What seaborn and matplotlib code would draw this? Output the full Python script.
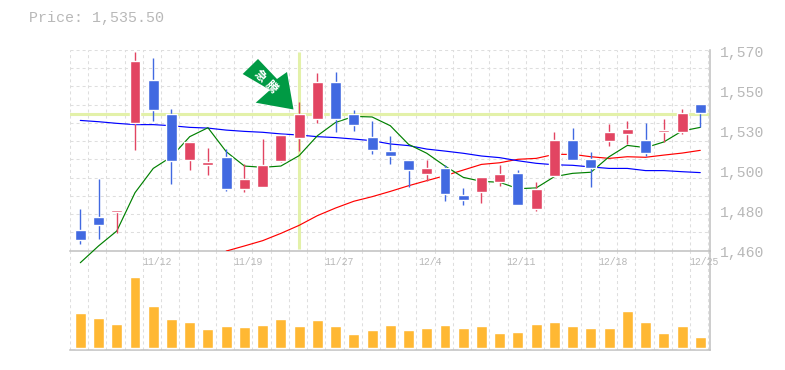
import numpy as np
import pandas as pd
import seaborn as sns
import matplotlib.pyplot as plt
from matplotlib.patches import Polygon

title = "Price: 1,535.50"
price_ticks = [1460, 1470, 1480, 1490, 1500, 1510, 1520, 1530, 1540, 1550, 1560, 1570]
price_labels = ["1,460", "1,480", "1,500", "1,530", "1,550", "1,570"]
date_pos = [4, 9, 14, 19, 24, 29, 34]
date_labels = ["11/12", "11/19", "11/27", "12/4", "12/11", "12/18", "12/25"]

opens = [1465.9, 1474.1, 1481.2, 1530.0, 1553.5, 1534.9, 1509.7, 1507.0, 1511.3, 1493.8,
         1494.9, 1509.2, 1521.8, 1532.2, 1552.4, 1534.9, 1522.3, 1514.6, 1509.7, 1502.0,
         1505.3, 1490.5, 1492.2, 1497.6, 1502.6, 1482.8, 1500.9, 1520.7, 1510.3, 1520.1,
         1524.0, 1520.7, 1525.0, 1525.0, 1540.4]
closes = [1471.3, 1478.5, 1482.3, 1563.95, 1537.1, 1509.2, 1519.6, 1508.6, 1493.8, 1499.3,
          1507.0, 1523.4, 1534.9, 1552.4, 1532.2, 1528.9, 1515.2, 1511.9, 1504.2, 1505.3,
          1491.1, 1487.8, 1500.4, 1502.0, 1485.0, 1493.8, 1520.7, 1509.7, 1505.3, 1525.0,
          1526.7, 1513.5, 1526.1, 1535.5, 1535.5]
highs = [1482.8, 1499.3, 1482.3, 1568.9, 1565.6, 1537.65, 1519.6, 1516.3, 1515.7, 1507.5,
         1521.2, 1523.4, 1541.5, 1557.4, 1557.9, 1537.1, 1531.1, 1522.9, 1509.7, 1509.7,
         1506.8, 1494.4, 1500.4, 1507.0, 1504.2, 1497.6, 1525.0, 1527.2, 1514.1, 1529.4,
         1531.1, 1530.0, 1532.2, 1537.65, 1540.4]
lows = [1463.7, 1466.4, 1469.7, 1515.2, 1531.1, 1496.5, 1504.2, 1501.5, 1492.7, 1492.2,
        1494.9, 1508.6, 1514.6, 1530.0, 1525.0, 1525.6, 1513.0, 1507.5, 1494.9, 1498.2,
        1487.2, 1485.0, 1486.1, 1495.5, 1485.0, 1481.75, 1500.9, 1509.7, 1494.9, 1517.4,
        1518.5, 1511.9, 1519.6, 1524.0, 1527.6]
up = [False, False, True, True, False, False, True, True, False, True,
      True, True, True, True, False, False, False, False, False, True,
      False, False, True, True, False, True, True, False, False, True,
      True, False, True, True, False]

ma_green = [1453.4, 1462.6, 1470.8, 1491.8, 1505.1, 1511.5, 1522.5, 1527.4, 1514.3, 1506.4,
            1505.7, 1506.4, 1512.1, 1523.0, 1530.3, 1533.6, 1533.3, 1528.5, 1518.3, 1513.4,
            1506.4, 1500.2, 1498.0, 1497.5, 1494.0, 1494.4, 1500.6, 1502.4, 1503.0, 1511.5,
            1517.7, 1516.5, 1519.6, 1525.6, 1527.6]
ma_blue = [1531.4, 1530.7, 1529.8, 1529.1, 1529.1, 1528.5, 1527.6, 1527.2, 1526.1, 1525.4,
           1524.9, 1524.0, 1523.4, 1522.5, 1522.0, 1521.2, 1520.3, 1518.5, 1517.6, 1515.7,
           1514.6, 1513.4, 1511.9, 1511.0, 1509.3, 1507.9, 1507.1, 1506.8, 1505.9, 1505.1,
           1505.1, 1503.9, 1503.9, 1503.3, 1502.8]
ma_red = [np.nan] * 8 + [1459.8, 1462.6, 1465.5, 1469.5, 1473.9, 1479.2, 1483.4, 1487.1, 1489.6,
                         1492.5, 1495.6, 1498.4, 1501.1, 1504.2, 1507.3, 1508.2, 1510.1, 1510.6,
                         1512.8, 1512.8, 1511.5, 1510.6, 1511.5, 1511.2, 1512.4, 1513.5, 1515.0]
volume = [35, 30, 24, 71, 42, 29, 26, 19, 22, 21, 23, 29, 22, 28, 22, 14, 18, 23,
          18, 20, 23, 20, 22, 15, 16, 24, 26, 22, 20, 20, 37, 26, 15, 22, 11]
cross_idx = 12
cross_price = 1534.7

RED = "#e24562"
BLUE = "#4169e1"
GRID = "#dedede"
AXIS = "#c0c0c0"
TEXT = "#b8b8b8"
CROSS = "#e3f1a9"
W, H = 785, 370

sns.set_style("white")
plt.rcParams["font.family"] = ["Liberation Mono", "Noto Sans CJK JP", "DejaVu Sans"]

days = np.arange(len(opens))
df = pd.DataFrame({"day": days, "open": opens, "close": closes, "high": highs, "low": lows,
                   "green": ma_green, "blue": ma_blue, "red": ma_red, "volume": volume})
colors = [RED if u else BLUE for u in up]

fig = plt.figure(figsize=(W / 100, H / 100), dpi=100)
ax_vol = fig.add_axes([70 / W, 1 - 350.3 / H, 640 / W, 99.6 / H])
ax = fig.add_axes([70 / W, 1 - 250.7 / H, 640 / W, 200.7 / H])
ax.patch.set_alpha(0)

# moving averages, green one runs past the bottom of the pane
for col, c in [("red", "#ff0000"), ("blue", "#0000ff"), ("green", "#008000")]:
    sns.lineplot(data=df, x="day", y=col, color=c, lw=0.85, ax=ax, zorder=3, clip_on=col == "red")

ax.vlines(days, df["low"], df["high"], colors=colors, lw=1.0, zorder=4)
ax.bar(days, np.abs(df["close"] - df["open"]), bottom=df[["open", "close"]].min(axis=1),
       width=0.6, color=colors, zorder=5)

ax.axhline(cross_price, color=CROSS, lw=2.2, zorder=2)
ax.plot([cross_idx, cross_idx], [1461, 1569], color=CROSS, lw=2.2, zorder=2, solid_capstyle="butt")

sns.barplot(data=df, x="day", y="volume", native_scale=True, color="#ffb833", saturation=1,
            width=0.6, ax=ax_vol, zorder=3)

xmin = -0.565
xmax = xmin + 640 / 18.235
grid_x = np.arange(xmin, xmax, 1.0)
for a in (ax, ax_vol):
    a.set_xlim(xmin, xmax)
    a.set_xticks(grid_x)
    a.set_xticklabels([])
    a.set_xlabel("")
    a.set_ylabel("")
    a.tick_params(length=0)
    a.set_yticklabels([])
    a.grid(axis="x", color=GRID, lw=0.75, ls=(0, (2.9, 2.9)), zorder=0)
    a.set_axisbelow(True)
    sns.despine(ax=a, left=True, top=True, right=False, bottom=False)
    for s in ("right", "bottom"):
        a.spines[s].set_color(AXIS)
        a.spines[s].set_linewidth(1.1)

ax.set_ylim(1460, 1570)
ax.set_yticks(price_ticks)
ax.set_yticklabels([])
ax.grid(axis="y", color=GRID, lw=0.75, ls=(0, (2.9, 2.9)), zorder=0)
ax_vol.set_ylim(-2.3, 97.3)
ax_vol.set_yticks([])

# everything from here on is text and the callout, placed in picture pixels
def px(x, y):
    return x / W, 1 - y / H

for lab, y in zip(price_labels, [253, 213, 173, 133, 93, 53]):
    fig.text(*px(720, y), lab, color=TEXT, fontsize=10.6, ha="left", va="center")
for d, lab in zip(date_pos, date_labels):
    fig.text(*px(80.3 + 18.235 * d + 3.5, 262), lab, color=TEXT, fontsize=7.1, ha="center", va="center")
fig.text(*px(29, 18), title, color=TEXT, fontsize=10.8, ha="left", va="center")

arrow = [(242.7, 74), (258, 59), (277, 79), (287, 72), (293.5, 109.5), (255.7, 102.7), (270, 90)]
fig.add_artist(Polygon([px(*p) for p in arrow], closed=True, transform=fig.transFigure,
                       facecolor="#009a44", edgecolor="none", zorder=6))
for ch, (x, y) in zip("急騰", [(259.5, 76), (270.5, 87)]):
    fig.text(*px(x, y), ch, color="white", fontsize=8.5, fontweight="bold", rotation=-45,
             rotation_mode="anchor", ha="center", va="center", zorder=7)

fig.savefig("out.png", dpi=100)
